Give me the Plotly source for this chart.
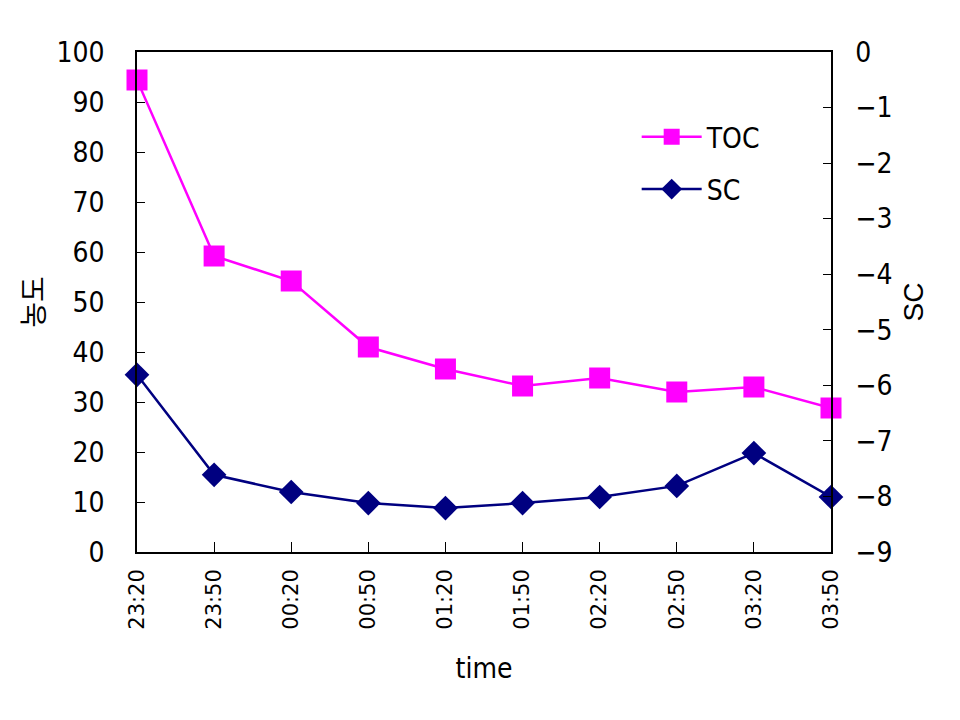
import plotly.graph_objects as go

times = ["23:20", "23:50", "00:20", "00:50", "01:20", "01:50", "02:20", "02:50", "03:20", "03:50"]
toc = [94.4, 59.2, 54.2, 41.0, 36.6, 33.2, 34.8, 32.0, 33.0, 28.8]
sc = [-5.81, -7.61, -7.92, -8.12, -8.21, -8.12, -8.01, -7.81, -7.22, -8.01]

narrow = "DejaVu Sans Condensed, Liberation Sans Narrow, sans-serif"

fig = go.Figure()
fig.add_trace(go.Scatter(x=times, y=toc, name="TOC", mode="lines+markers", legendgroup="a",
                         line=dict(color="#FF00FF", width=2.5),
                         marker=dict(symbol="square", size=21, color="#FF00FF"),
                         cliponaxis=False))
fig.add_trace(go.Scatter(x=times, y=sc, name="SC", mode="lines+markers", yaxis="y2", legendgroup="b",
                         line=dict(color="#000080", width=2.5),
                         marker=dict(symbol="diamond", size=19, color="#000080"),
                         cliponaxis=False))

fig.update_layout(
    width=960, height=720,
    paper_bgcolor="white", plot_bgcolor="white",
    margin=dict(l=129, r=137, t=44, b=176),
    font=dict(family=narrow, size=28, color="black"),
    showlegend=True,
    legend=dict(x=0.72, y=0.88, xanchor="left", yanchor="top",
                bgcolor="rgba(0,0,0,0)", font=dict(size=28, family=narrow),
                itemwidth=60, tracegroupgap=13),
    xaxis=dict(type="category", range=[0, 9], showline=True, linecolor="black",
               linewidth=1.5, mirror=True, ticks="inside", ticklen=10, tickcolor="black",
               tickangle=-90, tickfont=dict(family="DejaVu Sans, sans-serif", size=21),
               ticklabelstandoff=7,
               showgrid=False, zeroline=False,
               title=dict(text="time", font=dict(size=28, family=narrow), standoff=30)),
    yaxis=dict(range=[0, 100], dtick=10, showline=True, linecolor="black", linewidth=1.5,
               ticks="inside", ticklen=8, tickcolor="black", showgrid=False, zeroline=False,
               tickfont=dict(size=28, family=narrow), ticklabelstandoff=25,
               title=dict(text="농도", font=dict(size=28, family="Noto Sans CJK KR"), standoff=4)),
    yaxis2=dict(range=[-9, 0], dtick=1, overlaying="y", side="right", showline=True,
                linecolor="black", linewidth=1.5, ticks="inside", ticklen=8, tickcolor="black",
                showgrid=False, zeroline=False, tickfont=dict(size=28, family=narrow),
                tickformat="d", exponentformat="none", ticklabelstandoff=17,
                title=dict(text="SC", font=dict(size=28, family="Liberation Sans, Arial, sans-serif"), standoff=12)),
)

fig.write_html("out.html")
